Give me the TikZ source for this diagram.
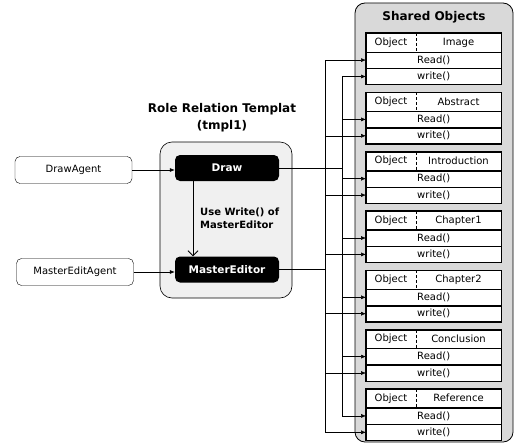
\documentclass[tikz,border=0pt]{standalone}
\usepackage{fontspec}
\setmainfont{DejaVu Sans}
\usetikzlibrary{arrows.meta,calc}
\begin{document}
\begin{tikzpicture}[x=1pt,y=-1pt,
  txt/.style={font=\fontsize{10}{12}\selectfont, inner sep=0pt},
  container/.style={draw, rounded corners=10pt, fill=gray!30, line width=0.8pt, inner sep=0pt},
  tmplbox/.style={draw, rounded corners=12pt, fill=gray!12, line width=0.6pt, inner sep=0pt},
  agent/.style={draw, rounded corners=5pt, fill=white, minimum width=117pt, minimum height=27pt, inner sep=0pt, font=\fontsize{10}{12}\selectfont},
  role/.style={fill=black, rounded corners=5pt, minimum width=104pt, minimum height=26pt, inner sep=0pt, text=white, font=\bfseries\fontsize{10.5}{12}\selectfont},
  hdr/.style={draw, fill=white, minimum width=135pt, minimum height=18.5pt, inner sep=0pt, anchor=north west},
  cell/.style={draw, fill=white, minimum width=135pt, minimum height=16pt, inner sep=0pt, anchor=north west, font=\fontsize{10}{12}\selectfont},
  feed/.style={-{Latex[length=5pt,width=4pt]}, line width=0.5pt},
  bus/.style={line width=0.6pt},
  title/.style={font=\bfseries\fontsize{12}{17}\selectfont, align=center, inner sep=0pt}
]
\useasboundingbox (0,0) rectangle (518,444);

% Shared objects container
\node[container, minimum width=158pt, minimum height=439pt] (shared) at (434,222.5) {};
\node[title] (sharedtitle) at (434,17) {Shared Objects};

\foreach \n [count=\i] in {Image,Abstract,Introduction,Chapter1,Chapter2,Conclusion,Reference} {
  \pgfmathsetmacro\t{33+59.3*(\i-1)}
  \node[hdr] (h\i) at (366,\t) {};
  \node[txt] (o\i) at ($(h\i.west)+(25,0)$) {Object};
  \node[txt] (n\i) at ($(h\i.west)+(92.5,0)$) {\n};
  \draw[densely dashed, line width=0.5pt] ($(h\i.north west)+(50,0)$) -- ($(h\i.south west)+(50,0)$);
  \node[cell] (r\i) at (h\i.south west) {Read()};
  \node[cell] (w\i) at (r\i.south west) {write()};
  \draw[line width=1.3pt] (h\i.north west) rectangle (w\i.south east);
}

% Template
\node[title] (tmpltitle) at (222,118) {Role Relation Templat\\(tmpl1)};
\node[tmplbox, minimum width=132pt, minimum height=156pt] (tmpl) at (226,220) {};
\node[role] (draw) at (227,168) {Draw};
\node[role] (master) at (227,269.5) {MasterEditor};
\draw[-{Straight Barb[length=5pt,width=10pt]}, line width=0.8pt] (draw.south -| 193,0) -- (master.north -| 193,0);
\node[font=\bfseries\fontsize{10}{13}\selectfont, align=left, anchor=west, inner sep=0pt] (uselabel) at (200,218.5) {Use Write() of\\MasterEditor};

% Agents
\node[agent] (drawagent) at (73.5,170) {DrawAgent};
\node[agent] (masteragent) at (75,272) {MasterEditAgent};
\draw[-{Latex[length=5pt,width=4pt]}, line width=0.6pt] (drawagent.east) -- (drawagent.east -| draw.west);
\draw[-{Latex[length=5pt,width=4pt]}, line width=0.6pt] (masteragent.east) -- (masteragent.east -| master.west);

% Buses
\coordinate (busL) at (325,0);
\coordinate (busR) at (342,0);
\draw[bus] (busL |- r1.west) -- (busL |- w7.west);
\draw[bus] (busR |- w1.west) -- (busR |- r7.west);
\draw[bus] (draw.east) -- (busR |- draw.east);
\draw[bus] (master.east) -- (busL |- master.east);

\draw[feed] (busL |- r1.west) -- (r1.west);
\draw[feed] (busR |- w1.west) -- (w1.west);
\foreach \i in {2,...,7} {
  \draw[feed] (busR |- r\i.west) -- (r\i.west);
  \draw[feed] (busL |- w\i.west) -- (w\i.west);
}
\end{tikzpicture}
\end{document}
